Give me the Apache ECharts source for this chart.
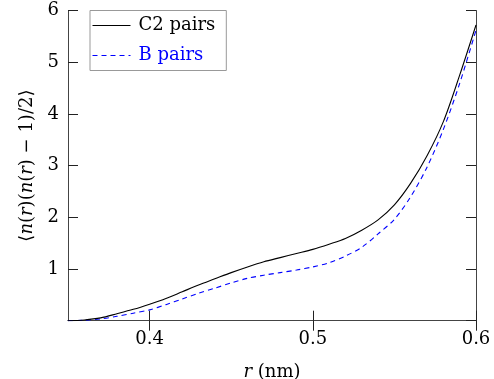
<!DOCTYPE html>
<html>
<head>
<meta charset="utf-8">
<script src="https://cdn.jsdelivr.net/npm/echarts@6/dist/echarts.min.js"></script>
<style>
html,body{margin:0;padding:0;background:#fff;}
#chart{width:494px;height:379px;}
</style>
</head>
<body>
<div id="chart"></div>
<script>
var rValues = [0.35,0.36,0.37,0.38,0.39,0.40,0.41,0.42,0.43,0.44,0.45,0.46,0.47,0.48,0.49,0.50,0.51,0.52,0.53,0.54,0.55,0.56,0.57,0.58,0.59,0.60];
var c2Pairs = [0,0.015,0.055,0.135,0.22,0.32,0.43,0.56,0.69,0.81,0.93,1.04,1.14,1.22,1.30,1.38,1.48,1.59,1.75,1.95,2.24,2.66,3.19,3.85,4.75,5.72];
var bPairs  = [0,0.01,0.035,0.085,0.145,0.21,0.31,0.42,0.53,0.63,0.73,0.82,0.88,0.93,0.98,1.04,1.12,1.25,1.42,1.68,1.96,2.40,2.97,3.70,4.59,5.62];
var xTicks = [0.4,0.5,0.6];
var yTicks = [0,1,2,3,4,5,6];
var seriesNames = ['C2 pairs','B pairs'];

var FONT = 'DejaVu Serif';
var FS = 18;
function pairs(xs, ys){ return xs.map(function(x,i){return [x, ys[i]];}); }

var chart = echarts.init(document.getElementById('chart'), null, {renderer:'canvas'});
var axisLineStyle = {color:'#444', width:1};
var tickStyle = {color:'#222', width:1};
chart.setOption({
  animation:false,
  backgroundColor:'#fff',
  textStyle:{fontFamily:FONT},
  grid:{left:68, right:18, top:10.5, bottom:58.3, containLabel:false, outerBoundsMode:'none'},
  legend:{
    left:90, top:10.5, orient:'vertical',
    backgroundColor:'#fff', borderColor:'#999', borderWidth:1, borderRadius:0,
    padding:[5,11,5,2],
    itemWidth:38, itemHeight:20, itemGap:10,
    itemStyle:{opacity:0},
    textStyle:{fontFamily:FONT, fontSize:FS, lineHeight:20, padding:[0,0,0,3]},
    data:[
      {name:seriesNames[0], textStyle:{color:'#000'}, lineStyle:{color:'#000', width:1, type:'solid'}},
      {name:seriesNames[1], textStyle:{color:'#0000ff'}, lineStyle:{color:'#0000ff', width:1, type:[5,4]}}
    ]
  },
  xAxis:[{
    type:'value', min:0.35, max:0.6,
    name:'{i|r} (nm)', nameLocation:'middle', nameGap:43,
    nameTextStyle:{fontFamily:FONT, fontSize:FS, color:'#000', rich:{i:{fontFamily:FONT, fontSize:FS, fontStyle:'italic', color:'#000'}}},
    axisLine:{show:true, lineStyle:axisLineStyle},
    axisTick:{show:true, inside:true, length:10, lineStyle:tickStyle, customValues:xTicks},
    axisLabel:{show:true, fontFamily:FONT, fontSize:FS, color:'#000', margin:10, customValues:xTicks, formatter:function(v){return v.toFixed(1);}},
    splitLine:{show:false}
  },{
    type:'value', min:0.35, max:0.6, position:'top',
    axisLine:{show:true, lineStyle:axisLineStyle},
    axisTick:{show:true, inside:true, length:10, lineStyle:tickStyle, customValues:xTicks},
    axisLabel:{show:false},
    splitLine:{show:false}
  }],
  yAxis:[{
    type:'value', min:0, max:6, interval:1,
    name:'⟨{i|n}({i|r})({i|n}({i|r}) − 1)/2⟩', nameLocation:'middle', nameGap:30, nameRotate:90,
    nameTextStyle:{fontFamily:FONT, fontSize:FS, color:'#000', rich:{i:{fontFamily:FONT, fontSize:FS, fontStyle:'italic', color:'#000'}}},
    axisLine:{show:true, lineStyle:axisLineStyle},
    axisTick:{show:true, inside:true, length:10, lineStyle:tickStyle},
    axisLabel:{show:true, fontFamily:FONT, fontSize:FS, color:'#000', margin:9, formatter:function(v){return v===0?'':String(v);}},
    splitLine:{show:false}
  },{
    type:'value', min:0, max:6, interval:1, position:'right',
    axisLine:{show:true, lineStyle:axisLineStyle},
    axisTick:{show:true, inside:true, length:10, lineStyle:tickStyle},
    axisLabel:{show:false},
    splitLine:{show:false}
  }],
  series:[{
    name:seriesNames[0], type:'line', data:pairs(rValues,c2Pairs), smooth:0.3,
    symbol:'none', lineStyle:{color:'#000', width:1.1, type:'solid'}, itemStyle:{color:'#000'}, z:3
  },{
    name:seriesNames[1], type:'line', data:pairs(rValues,bPairs), smooth:0.3,
    symbol:'none', lineStyle:{color:'#0000ff', width:1.1, type:[5,4]}, itemStyle:{color:'#0000ff'}, z:2
  }]
});
</script>
</body>
</html>
